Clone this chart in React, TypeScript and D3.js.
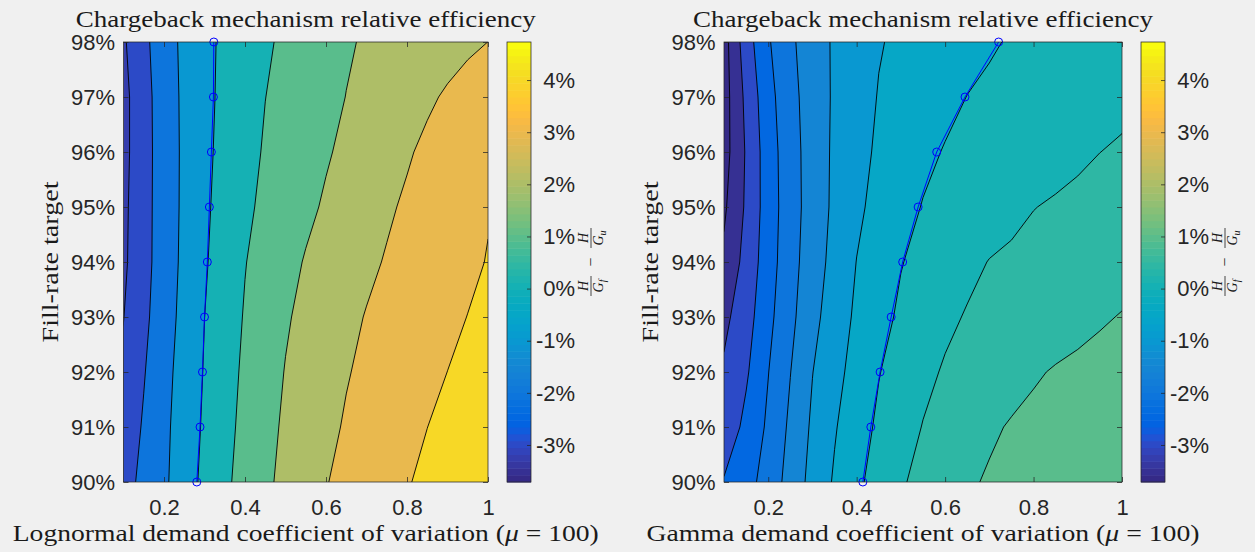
import React, { useEffect, useRef } from 'react';
import * as d3 from 'd3';

// grid of both surfaces: demand CV (columns) x fill-rate target (rows)
const cvGrid = [0.1, 0.15, 0.2, 0.25, 0.3, 0.35, 0.4, 0.45, 0.5, 0.55, 0.6, 0.65, 0.7, 0.75, 0.8, 0.85, 0.9, 0.95, 1];
const fillRates = [90, 91, 92, 93, 94, 95, 96, 97, 98];

const xTicks = [0.2, 0.4, 0.6, 0.8, 1];
const yTicks = [90, 91, 92, 93, 94, 95, 96, 97, 98];
const colorTicks = [-3, -2, -1, 0, 1, 2, 3, 4];
const colorLimits = [-3.71, 4.73];

const lognormalLevels = [-3, -2, -1, 0, 1, 2, 3, 4];
const gammaLevels = [-3.5, -3, -2.5, -2, -1.5, -1, -0.5, 0, 0.5, 1];

// H/G_f - H/G_u (in %), one row per fill-rate target, 90% first
const lognormalGap = [
  [-2.357, -1.762, -1.167, -0.463, 0.226, 0.821, 1.340, 1.825, 2.234, 2.599, 2.964, 3.220, 3.464, 3.708, 3.952, 4.154, 4.346, 4.538, 4.730],
  [-2.589, -1.904, -1.219, -0.534, 0.129, 0.717, 1.248, 1.724, 2.137, 2.464, 2.791, 3.083, 3.312, 3.542, 3.771, 3.996, 4.175, 4.350, 4.525],
  [-2.806, -2.060, -1.313, -0.608, 0.057, 0.632, 1.161, 1.607, 2.036, 2.339, 2.642, 2.945, 3.171, 3.379, 3.588, 3.796, 4.004, 4.213, 4.421],
  [-3.020, -2.223, -1.446, -0.704, -0.004, 0.544, 1.067, 1.487, 1.907, 2.219, 2.500, 2.781, 3.043, 3.237, 3.431, 3.624, 3.818, 4.012, 4.206],
  [-3.170, -2.322, -1.523, -0.781, -0.096, 0.448, 0.969, 1.348, 1.719, 2.061, 2.316, 2.571, 2.826, 3.062, 3.257, 3.451, 3.646, 3.840, 4.035],
  [-3.210, -2.333, -1.537, -0.816, -0.158, 0.355, 0.823, 1.193, 1.503, 1.814, 2.104, 2.365, 2.625, 2.885, 3.117, 3.325, 3.534, 3.742, 3.950],
  [-3.278, -2.352, -1.537, -0.827, -0.210, 0.280, 0.703, 1.083, 1.361, 1.639, 1.917, 2.173, 2.421, 2.668, 2.916, 3.163, 3.411, 3.658, 3.906],
  [-3.283, -2.340, -1.515, -0.816, -0.241, 0.223, 0.608, 0.992, 1.250, 1.505, 1.760, 2.013, 2.229, 2.446, 2.662, 2.879, 3.095, 3.312, 3.528],
  [-3.125, -2.232, -1.448, -0.785, -0.248, 0.186, 0.531, 0.876, 1.159, 1.408, 1.657, 1.905, 2.094, 2.245, 2.397, 2.548, 2.700, 2.851, 3.003],
];

const gammaGap = [
  [-2.464, -2.174, -1.804, -1.310, -0.844, -0.444, -0.097, 0.189, 0.452, 0.629, 0.786, 0.943, 1.043, 1.111, 1.179, 1.247, 1.314, 1.382, 1.450],
  [-2.820, -2.375, -1.918, -1.408, -0.923, -0.539, -0.208, 0.080, 0.303, 0.517, 0.658, 0.799, 0.940, 1.033, 1.091, 1.148, 1.205, 1.263, 1.320],
  [-2.930, -2.566, -2.012, -1.510, -1.010, -0.650, -0.323, -0.018, 0.188, 0.388, 0.545, 0.649, 0.752, 0.856, 0.959, 1.030, 1.080, 1.130, 1.180],
  [-3.120, -2.711, -2.132, -1.623, -1.144, -0.750, -0.419, -0.150, 0.074, 0.242, 0.410, 0.532, 0.603, 0.674, 0.744, 0.815, 0.885, 0.956, 1.020],
  [-3.400, -2.837, -2.224, -1.683, -1.237, -0.843, -0.491, -0.255, -0.019, 0.125, 0.261, 0.397, 0.513, 0.568, 0.622, 0.677, 0.731, 0.786, 0.840],
  [-3.577, -2.931, -2.256, -1.717, -1.282, -0.905, -0.589, -0.356, -0.156, 0.021, 0.115, 0.209, 0.303, 0.397, 0.491, 0.542, 0.588, 0.634, 0.680],
  [-3.700, -2.955, -2.237, -1.704, -1.278, -0.919, -0.650, -0.428, -0.265, -0.101, 0.026, 0.093, 0.161, 0.229, 0.297, 0.364, 0.432, 0.498, 0.540],
  [-3.710, -2.887, -2.167, -1.657, -1.264, -0.937, -0.697, -0.478, -0.355, -0.233, -0.110, 0.006, 0.065, 0.124, 0.183, 0.243, 0.302, 0.361, 0.420],
  [-3.695, -2.735, -2.051, -1.589, -1.233, -0.939, -0.734, -0.529, -0.419, -0.324, -0.229, -0.134, -0.040, 0.031, 0.085, 0.139, 0.192, 0.246, 0.300],
];

// CV where both mechanisms break even, per fill-rate target (90% first)
const lognormalBreakEven = [0.281, 0.289, 0.295, 0.300, 0.307, 0.312, 0.317, 0.322, 0.323];
const gammaBreakEven = [0.414, 0.432, 0.453, 0.478, 0.504, 0.539, 0.581, 0.645, 0.721];

// MATLAB parula, 64 entries
const parula = [
  '#352a87', '#363093', '#3637a0', '#353dad', '#3243ba', '#2c4ac7', '#2053d4', '#0f5cdd',
  '#0363e1', '#0268e1', '#046de0', '#0871de', '#0d75dc', '#1079da', '#127dd8', '#1481d6',
  '#1485d4', '#1389d3', '#108ed2', '#0c93d2', '#0998d1', '#079ccf', '#06a0cd', '#06a4ca',
  '#06a7c6', '#07a9c2', '#0aacbe', '#0faeb9', '#15b1b4', '#1db3af', '#25b5a9', '#2eb7a4',
  '#38b99e', '#42bb98', '#4dbc92', '#59bd8c', '#65be86', '#71bf80', '#7cbf7b', '#87bf77',
  '#92bf73', '#9cbf6f', '#a5be6b', '#aebe67', '#b7bd64', '#c0bc60', '#c8bc5d', '#d1bb59',
  '#d9ba56', '#e1b952', '#e9b94e', '#f1b949', '#f8ba44', '#fdbe3d', '#ffc337', '#fec832',
  '#fcce2e', '#fad32a', '#f7d826', '#f5de21', '#f5e41d', '#f5eb18', '#f6f313', '#f9fb0e',
];

const W = 1255;
const H = 552;
const TOP = 42;
const BOTTOM = 482;
const ink = '#262626';
const sans = '"Liberation Sans", Arial, Helvetica, sans-serif';
const serif = '"Liberation Serif", "Times New Roman", serif';

const panels = [
  { id: 'logn', x0: 123.5, x1: 488, values: lognormalGap, levels: lognormalLevels, breakEven: lognormalBreakEven,
    dist: 'Lognormal', xLabelWidth: 586, cbX: 507 },
  { id: 'gamma', x0: 724, x1: 1122, values: gammaGap, levels: gammaLevels, breakEven: gammaBreakEven,
    dist: 'Gamma', xLabelWidth: 553, cbX: 1141 },
];

const App = () => {
  const svgRef = useRef(null);

  useEffect(() => {
    const svg = d3.select(svgRef.current);
    svg.selectAll('*').remove();

    svg.append('rect').attr('width', W).attr('height', H).attr('fill', '#f0f0f0');

    const color = d3.scaleQuantize().domain(colorLimits).range(parula);
    const y = d3.scaleLinear().domain([90, 98]).range([BOTTOM, TOP]);

    panels.forEach(p => {
      const x = d3.scaleLinear().domain([0.1, 1]).range([p.x0, p.x1]);
      const nx = cvGrid.length;
      const ny = fillRates.length;
      // contour grid coords -> pixels (grid value i sits at i + 0.5)
      const gx = d3.scaleLinear().domain([0.5, nx - 0.5]).range([x(cvGrid[0]), x(cvGrid[nx - 1])]);
      const gy = d3.scaleLinear().domain([0.5, ny - 0.5]).range([y(fillRates[0]), y(fillRates[ny - 1])]);
      const flat = p.values.flat();
      const bands = d3.contours().size([nx, ny]).thresholds(p.levels)(flat);
      const path = d3.geoPath(d3.geoTransform({
        point(px, py) { this.stream.point(gx(px), gy(py)); }
      }));

      const clipId = `clip-${p.id}`;
      svg.append('clipPath').attr('id', clipId)
        .append('rect')
        .attr('x', p.x0).attr('y', TOP)
        .attr('width', p.x1 - p.x0).attr('height', BOTTOM - TOP);

      const g = svg.append('g').attr('clip-path', `url(#${clipId})`);
      g.append('rect')
        .attr('x', p.x0).attr('y', TOP)
        .attr('width', p.x1 - p.x0).attr('height', BOTTOM - TOP)
        .attr('fill', color(d3.min(flat)));
      g.append('g').selectAll('path')
        .data(bands)
        .join('path')
          .attr('d', path)
          .attr('fill', d => color(d.value));
      g.append('g').selectAll('path')
        .data(bands)
        .join('path')
          .attr('d', path)
          .attr('fill', 'none')
          .attr('stroke', '#000')
          .attr('stroke-width', 0.9);

      // break-even curve
      const pts = p.breakEven.map((cv, i) => ({ cv, fr: fillRates[i] }));
      g.append('path')
        .datum(pts)
        .attr('fill', 'none')
        .attr('stroke', '#0000ff')
        .attr('stroke-width', 1)
        .attr('d', d3.line().x(d => x(d.cv)).y(d => y(d.fr)));
      svg.append('g').selectAll('circle')
        .data(pts)
        .join('circle')
          .attr('cx', d => x(d.cv))
          .attr('cy', d => y(d.fr))
          .attr('r', 4)
          .attr('fill', 'none')
          .attr('stroke', '#0000ff')
          .attr('stroke-width', 1);

      // axes, ticks pointing inwards
      const styleAxis = sel => {
        sel.select('.domain').remove();
        sel.selectAll('.tick line').attr('stroke', ink).attr('stroke-width', 0.75);
        sel.selectAll('.tick text').attr('fill', ink).attr('font-family', sans).attr('font-size', 22);
      };
      svg.append('g')
        .attr('transform', `translate(0,${BOTTOM})`)
        .call(d3.axisBottom(x).tickValues(xTicks).tickSize(-5).tickPadding(17).tickFormat(d3.format('')))
        .call(styleAxis);
      svg.append('g')
        .attr('transform', `translate(0,${TOP})`)
        .call(d3.axisTop(x).tickValues(xTicks).tickSize(-5).tickFormat(() => ''))
        .call(styleAxis);
      svg.append('g')
        .attr('transform', `translate(${p.x0},0)`)
        .call(d3.axisLeft(y).tickValues(yTicks).tickSize(-5).tickPadding(8.5).tickFormat(d => `${d}%`))
        .call(styleAxis);
      svg.append('g')
        .attr('transform', `translate(${p.x1},0)`)
        .call(d3.axisRight(y).tickValues(yTicks).tickSize(-5).tickFormat(() => ''))
        .call(styleAxis);
      svg.append('rect')
        .attr('x', p.x0).attr('y', TOP)
        .attr('width', p.x1 - p.x0).attr('height', BOTTOM - TOP)
        .attr('fill', 'none').attr('stroke', ink).attr('stroke-width', 0.75);

      // texts
      const cx = (p.x0 + p.x1) / 2;
      svg.append('text')
        .attr('x', cx).attr('y', 27)
        .attr('text-anchor', 'middle')
        .attr('font-family', serif).attr('font-size', 24).attr('fill', '#1a1a1a')
        .attr('textLength', 460).attr('lengthAdjust', 'spacingAndGlyphs')
        .text('Chargeback mechanism relative efficiency');
      const xl = svg.append('text')
        .attr('x', cx).attr('y', 541)
        .attr('text-anchor', 'middle')
        .attr('font-family', serif).attr('font-size', 24).attr('fill', '#1a1a1a')
        .attr('textLength', p.xLabelWidth).attr('lengthAdjust', 'spacingAndGlyphs');
      xl.append('tspan').text(`${p.dist} demand coefficient of variation (`);
      xl.append('tspan').attr('font-style', 'italic').text('μ');
      xl.append('tspan').text(' = 100)');
      svg.append('text')
        .attr('transform', `translate(${p.x0 - 66},${(TOP + BOTTOM) / 2}) rotate(-90)`)
        .attr('text-anchor', 'middle')
        .attr('font-family', serif).attr('font-size', 24).attr('fill', '#1a1a1a')
        .attr('textLength', 161).attr('lengthAdjust', 'spacingAndGlyphs')
        .text('Fill-rate target');

      // colorbar
      const cbW = 24;
      const cy = d3.scaleLinear().domain(colorLimits).range([BOTTOM, TOP]);
      const step = (colorLimits[1] - colorLimits[0]) / parula.length;
      svg.append('g').selectAll('rect')
        .data(parula)
        .join('rect')
          .attr('x', p.cbX)
          .attr('y', (c, i) => cy(colorLimits[0] + (i + 1) * step))
          .attr('width', cbW)
          .attr('height', (c, i) => cy(colorLimits[0] + i * step) - cy(colorLimits[0] + (i + 1) * step) + 0.5)
          .attr('fill', c => c);
      svg.append('g')
        .attr('transform', `translate(${p.cbX + cbW},0)`)
        .call(d3.axisLeft(cy).tickValues(colorTicks).tickSize(4).tickFormat(() => ''))
        .call(styleAxis);
      svg.append('g').selectAll('text')
        .data(colorTicks)
        .join('text')
          .attr('x', p.cbX + cbW + 44)
          .attr('y', d => cy(d))
          .attr('dy', '0.35em')
          .attr('text-anchor', 'end')
          .attr('font-family', sans).attr('font-size', 22).attr('fill', ink)
          .text(d => `${d}%`);
      svg.append('rect')
        .attr('x', p.cbX).attr('y', TOP)
        .attr('width', cbW).attr('height', BOTTOM - TOP)
        .attr('fill', 'none').attr('stroke', ink).attr('stroke-width', 0.75);

      // colorbar label: H/G_f - H/G_u, rotated
      const lab = svg.append('g')
        .attr('transform', `translate(${p.cbX + cbW + 60},${(TOP + BOTTOM) / 2}) rotate(-90)`)
        .attr('font-family', serif).attr('fill', '#1a1a1a');
      const frac = (ox, sub) => {
        lab.append('text')
          .attr('x', ox).attr('y', -3)
          .attr('text-anchor', 'middle').attr('font-style', 'italic').attr('font-size', 14)
          .text('H');
        lab.append('line')
          .attr('x1', ox - 10).attr('x2', ox + 10).attr('y1', 0).attr('y2', 0)
          .attr('stroke', '#1a1a1a').attr('stroke-width', 0.8);
        const t = lab.append('text')
          .attr('x', ox).attr('y', 12)
          .attr('text-anchor', 'middle').attr('font-style', 'italic').attr('font-size', 14);
        t.append('tspan').text('G');
        t.append('tspan').attr('font-size', 10).attr('dy', 3).text(sub);
      };
      frac(-24, 'f');
      lab.append('text')
        .attr('x', 0).attr('y', 5)
        .attr('text-anchor', 'middle').attr('font-size', 16)
        .text('\u2212');
      frac(24, 'u');
    });
  }, []);

  return (
    <svg
      ref={svgRef}
      width={W}
      height={H}
      style={{ position: 'absolute', left: 0, top: 0, display: 'block' }}
    />
  );
};

export default App;
